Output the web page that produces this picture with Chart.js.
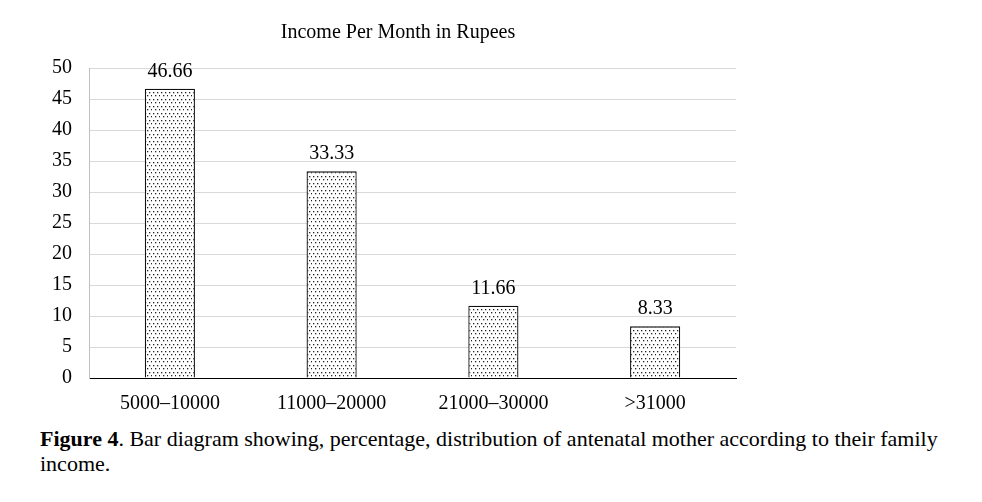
<!DOCTYPE html>
<html><head><meta charset="utf-8">
<script src="https://cdn.jsdelivr.net/npm/chart.js@4"></script>
<style>
html,body{margin:0;padding:0;background:#fff;}
#wrap{position:relative;width:982px;height:502px;}
#cv{position:absolute;left:0;top:0;}
#cap{position:absolute;left:40px;top:426px;font-family:"Liberation Serif","Times New Roman",serif;font-size:22px;line-height:25px;color:#000;white-space:nowrap;}
</style></head>
<body>
<div id="wrap">
<canvas id="cv" width="982" height="420" style="width:982px;height:420px"></canvas>
<div id="cap"><b>Figure 4</b>. Bar diagram showing, percentage, distribution of antenatal mother according to their family<br>income.</div>
</div>
<script>
const categories = ["5000\u201310000", "11000\u201320000", "21000\u201330000", ">31000"];
const values = [46.66, 33.33, 11.66, 8.33];
const valueLabels = ["46.66", "33.33", "11.66", "8.33"];
const titleText = "Income Per Month in Rupees";

const FONT = '"Liberation Serif","Times New Roman",serif';

function makePattern(){
  const c = document.createElement('canvas');
  c.width = 8; c.height = 7;
  const g = c.getContext('2d');
  g.fillStyle = '#fff'; g.fillRect(0,0,8,7);
  g.fillStyle = '#222';
  [[1,1],[5,1],[3,4],[7,4]].forEach(p=>g.fillRect(p[0],p[1],1.3,1.3));
  return g.createPattern(c,'repeat');
}
const ctx = document.getElementById('cv').getContext('2d');
const pattern = makePattern();

const labelPlugin = {
  id:'labelPlugin',
  afterDatasetsDraw(chart){
    const c = chart.ctx;
    const meta = chart.getDatasetMeta(0);
    c.save();
    c.font = '20px ' + FONT;
    c.fillStyle = '#000';
    c.textAlign = 'center';
    c.textBaseline = 'alphabetic';
    meta.data.forEach((bar,i)=>{
      c.fillText(valueLabels[i], bar.x, bar.y - 12);
    });
    c.restore();
  },
  afterDraw(chart){
    const c = chart.ctx;
    c.save();
    c.font = '20px ' + FONT;
    c.fillStyle = '#000';
    c.textAlign = 'center';
    c.textBaseline = 'middle';
    c.fillText(titleText, 398, 33);
    c.restore();
  }
};

new Chart(ctx, {
  type:'bar',
  data:{
    labels:categories,
    datasets:[{
      data:values,
      backgroundColor:pattern,
      borderColor:'#111',
      borderWidth:1.3,
      barPercentage:0.62,
      categoryPercentage:0.5
    }]
  },
  options:{
    responsive:false,
    animation:false,
    devicePixelRatio:1,
    layout:{padding:{left:0,right:246,top:68,bottom:0}},
    plugins:{legend:{display:false},tooltip:{enabled:false},title:{display:false}},
    scales:{
      x:{
        grid:{display:false,drawTicks:false},
        border:{color:'#000',width:1},
        ticks:{color:'#000',font:{family:FONT,size:20},padding:14},
        afterFit(s){ s.height = 42; }
      },
      y:{
        min:0,max:50,
        grid:{color:'#d9d9d9',drawTicks:false},
        border:{color:'#bfbfbf',width:1},
        ticks:{stepSize:5,color:'#000',font:{family:FONT,size:20},padding:17},
        afterFit(s){ s.width = 89; }
      }
    }
  },
  plugins:[labelPlugin]
});
</script>
</body></html>
